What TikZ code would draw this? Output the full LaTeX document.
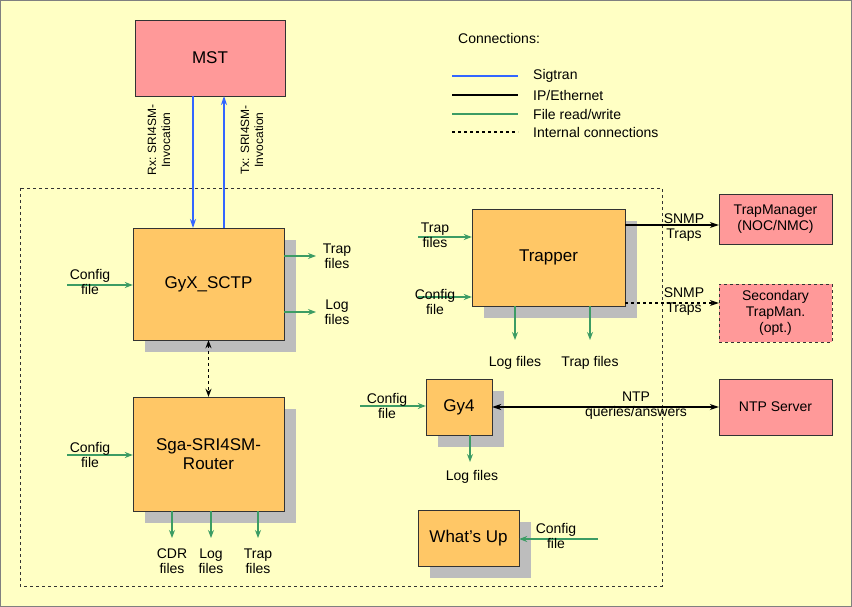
\documentclass[tikz,border=0pt]{standalone}
\usepackage{fontspec}
\setmainfont{Liberation Sans}
\usetikzlibrary{arrows.meta}
\definecolor{bg}{HTML}{FFFFC4}
\definecolor{pk}{HTML}{FF9999}
\definecolor{og}{HTML}{FFC766}
\definecolor{gr}{HTML}{3C9C64}
\definecolor{bl}{HTML}{3366FF}
\definecolor{sh}{HTML}{BDBDBD}
\begin{document}
\begin{tikzpicture}[x=1pt,y=-1pt,
 box/.style={draw=black!80,fill=og,minimum width=#1,font=\fontsize{17}{19}\selectfont,align=center},
 pbox/.style={draw=black!80,fill=pk,font=\fontsize{14}{16}\selectfont,align=center},
 lab/.style={font=\fontsize{14}{15}\selectfont,align=center,inner sep=1pt},
 ga/.style={draw=gr,line width=1.2pt,-{Stealth[length=8pt,width=6pt]}},
 ba/.style={draw=bl,line width=1.2pt,-{Stealth[length=9pt,width=6pt]}},
 ka/.style={draw=black,line width=1.2pt,-{Stealth[length=9pt,width=6pt]}}]
\fill[bg,draw=black!50] (0.5,0.5) rectangle (851.5,606.5);
\useasboundingbox (0,0) rectangle (852,607);
% legend
\node[lab,anchor=west] (lt) at (457,38) {Connections:};
\foreach \y/\c/\d/\t [count=\i] in {76/bl/solid/{Sigtran},95/black/solid/{IP/Ethernet},114/gr/solid/{File read/write},132/black/dashed/{Internal connections}}{
 \coordinate (l\i a) at (452,\y); \coordinate (l\i b) at (518,\y);
 \draw[\c,line width=1.4pt,\d] (l\i a) -- (l\i b);
 \node[lab,anchor=west] (lt\i) at (532,\y) {\t};}
% dashed frame
\draw[dashed,black!80] (20,188) rectangle (662,586);
% shadows
\foreach \a/\b/\c/\d in {133/228/284/340, 133/397/284/511, 472/209/625/306, 426/379/492/435, 418/510/519/566}
 \fill[sh] (\a+12,\b+12) rectangle (\c+12,\d+12);
% boxes
\node[pbox,font=\fontsize{17}{19}\selectfont,minimum width=150,minimum height=76] (mst) at (210,58) {MST};
\node[box=151,minimum height=112] (gyx) at (208.5,284) {GyX\_SCTP};
\node[box=151,minimum height=114] (sga) at (208.5,454) {Sga-SRI4SM-\\Router};
\node[box=153,minimum height=97] (trap) at (548.5,257.5) {Trapper};
\node[box=66,minimum height=56] (gy4) at (459,407) {Gy4};
\node[box=101,minimum height=56] (wu) at (468.5,538) {What’s Up};
\node[pbox,minimum width=113,minimum height=50] (tm) at (775.5,219) {TrapManager\\(NOC/NMC)};
\node[pbox,dashed,minimum width=113,minimum height=58] (stm) at (775.5,313) {Secondary\\TrapMan.\\(opt.)};
\node[pbox,minimum width=113,minimum height=56] (ntp) at (775.5,407) {NTP Server};
% sigtran
\draw[ba] (193,96) -- (193,228);
\draw[ba] (224,228) -- (224,96);
\node[lab,rotate=90,font=\fontsize{12}{14}\selectfont] (rx) at (159,140) {Rx: SRI4SM-\\Invocation};
\node[lab,rotate=90,font=\fontsize{12}{14}\selectfont] (tx) at (252,140) {Tx: SRI4SM-\\Invocation};
% internal
\draw[dashed,line width=1.2pt,{Stealth[length=8pt,width=6pt]}-{Stealth[length=8pt,width=6pt]}] (gyx.south) -- (sga.north);
% GyX files
\coordinate (c1) at (67,285); \draw[ga] (c1) -- (gyx.west|-c1);
\node[lab] (c1l) at (90,282) {Config\\file};
\coordinate (t1) at (316,256); \draw[ga] (gyx.east|-t1) -- (t1);
\node[lab] (t1l) at (337,256) {Trap\\files};
\coordinate (g1) at (316,312); \draw[ga] (gyx.east|-g1) -- (g1);
\node[lab] (g1l) at (337,312) {Log\\files};
% Sga files
\coordinate (c2) at (67,455); \draw[ga] (c2) -- (sga.west|-c2);
\node[lab] (c2l) at (90,455) {Config\\file};
\foreach \x/\t [count=\i] in {172/CDR,211/Log,258/Trap}{
 \coordinate (s\i) at (\x,538); \draw[ga] (sga.south-|s\i) -- (s\i);
 \node[lab] (s\i l) at (\x,561) {\t\\files};}
% Trapper
\coordinate (t2) at (418,237); \draw[ga] (t2) -- (trap.west|-t2);
\node[lab] (t2l) at (435,235) {Trap\\files};
\coordinate (c3) at (418,297); \draw[ga] (c3) -- (trap.west|-c3);
\node[lab] (c3l) at (435,302) {Config\\file};
\coordinate (d1) at (515,340); \draw[ga] (trap.south-|d1) -- (d1);
\node[lab] (d1l) at (515,363) {Log files};
\coordinate (d2) at (590,340); \draw[ga] (trap.south-|d2) -- (d2);
\node[lab] (d2l) at (590,363) {Trap files};
\coordinate (e1) at (625,225); \draw[ka] (e1) -- (tm.west|-e1);
\node[lab] (e1l) at (684,228) {SNMP\\Traps};
\coordinate (e2) at (625,303); \draw[ka,dashed] (e2) -- (stm.west|-e2);
\node[lab] (e2l) at (684,302) {SNMP\\Traps};
% Gy4
\coordinate (c4) at (360,406); \draw[ga] (c4) -- (gy4.west|-c4);
\node[lab] (c4l) at (387,406) {Config\\file};
\coordinate (d3) at (470,462); \draw[ga] (gy4.south-|d3) -- (d3);
\node[lab] (d3l) at (472,477) {Log files};
\draw[ka,{Stealth[length=9pt,width=6pt]}-{Stealth[length=9pt,width=6pt]}] (gy4.east) -- (ntp.west);
\node[lab] (ntpl) at (636,406) {NTP\\queries/answers};
% What's up
\coordinate (c5) at (598,539); \draw[ga] (c5) -- (wu.east|-c5);
\node[lab] (c5l) at (556,536) {Config\\file};
\end{tikzpicture}
\end{document}
